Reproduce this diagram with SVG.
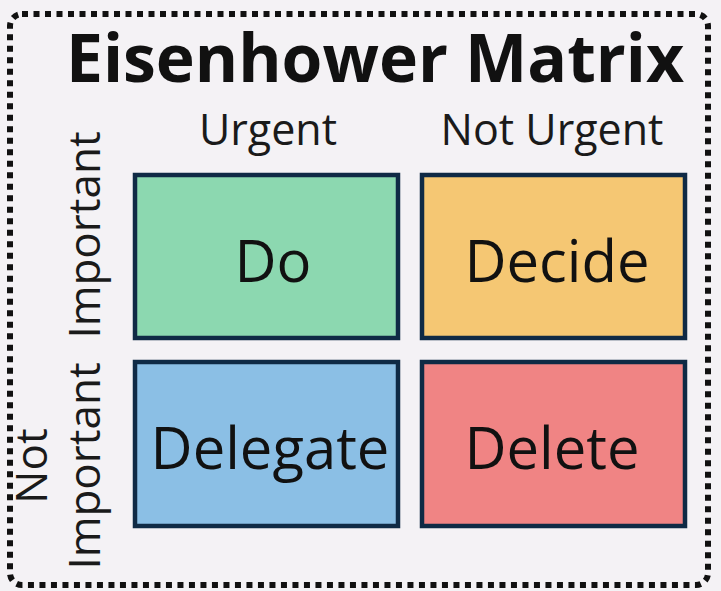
<svg xmlns="http://www.w3.org/2000/svg" width="721" height="591" viewBox="0 0 721 591">
  <style>
    .frame { fill: none; stroke: #111; stroke-width: 6; stroke-dasharray: 6 5.5; }
    .cell rect { stroke: #0f2a45; stroke-width: 4.5; }
    .cell text { font-family: "Open Sans", "Noto Sans", sans-serif; font-size: 58px; fill: #111; text-anchor: middle; }
    .axis { font-family: "Open Sans", "Noto Sans", sans-serif; font-size: 43px; fill: #1a1a1a; text-anchor: middle; }
    .side { font-size: 44px; }
    .title { font-family: "Open Sans", "Noto Sans", sans-serif; font-weight: bold; font-size: 66px; fill: #111; text-anchor: middle; }
  </style>
  <rect x="0" y="0" width="721" height="591" fill="#f4f2f5"/>
  <rect class="frame" x="10" y="14" width="698" height="571" rx="12"/>

  <text class="title" x="375" y="82">Eisenhower Matrix</text>

  <g id="labels">
    <text class="axis" x="268" y="145">Urgent</text>
    <text class="axis" x="552" y="145">Not Urgent</text>
    <text class="axis side" transform="translate(100 235) rotate(-90)">Important</text>
    <text class="axis side" transform="translate(47 466) rotate(-90)">Not</text>
    <text class="axis side" transform="translate(100 466) rotate(-90)">Important</text>
  </g>

  <g id="do" class="cell">
    <rect x="135" y="175" width="263" height="163" fill="#8cd8b0"/>
    <text x="273" y="282">Do</text>
  </g>
  <g id="decide" class="cell">
    <rect x="422" y="175" width="263" height="163" fill="#f5c773"/>
    <text x="557" y="282">Decide</text>
  </g>
  <g id="delegate" class="cell">
    <rect x="135" y="362" width="263" height="164" fill="#8bbfe5"/>
    <text x="270" y="469">Delegate</text>
  </g>
  <g id="delete" class="cell">
    <rect x="422" y="362" width="263" height="164" fill="#f08484"/>
    <text x="552" y="469">Delete</text>
  </g>

  <g id="connectors"></g>
</svg>
